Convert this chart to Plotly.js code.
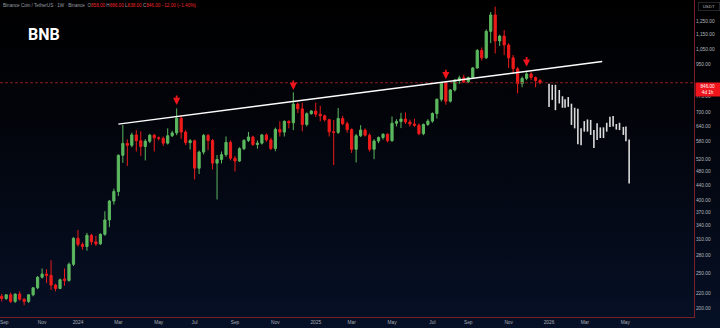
<!DOCTYPE html>
<html><head><meta charset="utf-8">
<script src="https://cdn.plot.ly/plotly-3.0.1.min.js"></script>
<style>
html,body{margin:0;padding:0;width:720px;height:328px;overflow:hidden;
background:linear-gradient(180deg,#000000 0%,#02040a 35%,#061026 100%);}
#chart{width:720px;height:328px;}
</style></head><body><div id="chart"></div>
<script>
// Weekly candles, BNB/USDT (Binance, 1W)
const weeks = [
'2023-09-04','2023-09-11','2023-09-18','2023-09-25','2023-10-02','2023-10-09','2023-10-16','2023-10-23','2023-10-30','2023-11-06',
'2023-11-13','2023-11-20','2023-11-27','2023-12-04','2023-12-11','2023-12-18','2023-12-25','2024-01-01','2024-01-08','2024-01-15',
'2024-01-22','2024-01-29','2024-02-05','2024-02-12','2024-02-19','2024-02-26','2024-03-04','2024-03-11','2024-03-18','2024-03-25',
'2024-04-01','2024-04-08','2024-04-15','2024-04-22','2024-04-29','2024-05-06','2024-05-13','2024-05-20','2024-05-27','2024-06-03',
'2024-06-10','2024-06-17','2024-06-24','2024-07-01','2024-07-08','2024-07-15','2024-07-22','2024-07-29','2024-08-05','2024-08-12',
'2024-08-19','2024-08-26','2024-09-02','2024-09-09','2024-09-16','2024-09-23','2024-09-30','2024-10-07','2024-10-14','2024-10-21',
'2024-10-28','2024-11-04','2024-11-11','2024-11-18','2024-11-25','2024-12-02','2024-12-09','2024-12-16','2024-12-23','2024-12-30',
'2025-01-06','2025-01-13','2025-01-20','2025-01-27','2025-02-03','2025-02-10','2025-02-17','2025-02-24','2025-03-03','2025-03-10',
'2025-03-17','2025-03-24','2025-03-31','2025-04-07','2025-04-14','2025-04-21','2025-04-28','2025-05-05','2025-05-12','2025-05-19',
'2025-05-26','2025-06-02','2025-06-09','2025-06-16','2025-06-23','2025-06-30','2025-07-07','2025-07-14','2025-07-21','2025-07-28',
'2025-08-04','2025-08-11','2025-08-18','2025-08-25','2025-09-01','2025-09-08','2025-09-15','2025-09-22','2025-09-29','2025-10-06',
'2025-10-13','2025-10-20','2025-10-27','2025-11-03','2025-11-10','2025-11-17','2025-11-24','2025-12-01','2025-12-08','2025-12-15',
'2025-12-22'];
const openP = [
216,213,218,209,219,212,209,218,228,244, 249,247,232,227,241,239,265,313,301,297,
319,306,302,321,352,397,422,532,574,567, 606,584,563,582,605,595,593,575,603,614,
674,617,577,584,490,543,604,585,506,518, 534,578,522,513,555,585,598,570,575,606,
587,556,628,617,661,655,738,716,648,694, 706,692,685,668,618,616,673,651,627,553,
603,625,605,553,583,596,609,584,653,660, 671,658,650,645,611,648,662,695,761,845,
752,808,858,873,851,875,930,1040,992,1175, 1305,1105,1140,1077,992,925,842,870,895,875,
858];
const highP = [
219,219,221,220,223,213,219,229,246,258, 257,272,234,242,258,268,315,330,305,324,
322,318,323,372,400,430,535,646,589,615, 625,620,590,610,610,600,600,632,622,718,
688,625,590,588,548,610,610,590,533,545, 600,585,530,560,590,618,603,585,610,612,
595,635,661,665,665,796,745,745,700,710, 745,730,690,672,667,720,685,660,632,610,
645,632,612,590,600,612,612,682,670,698, 700,668,672,652,652,670,700,765,850,855,
812,865,885,890,880,935,1050,1060,1190,1330, 1376,1150,1185,1090,1010,935,880,905,905,880,
866];
const lowP = [
209,211,207,207,210,204,207,216,226,242, 235,225,223,226,231,237,262,297,291,289,
300,298,300,318,336,388,410,507,497,560, 545,530,515,575,545,585,565,570,598,605,
591,568,552,456,472,535,550,486,401,505, 527,515,480,510,550,579,565,555,570,580,
550,546,600,600,632,625,697,620,640,690, 680,661,660,600,500,610,645,615,540,508,
598,600,545,519,575,588,578,580,640,633, 650,640,638,605,605,642,655,673,750,735,
745,800,840,845,845,870,925,975,985,1090, 1020,1070,1010,930,895,790,822,860,860,822,
838];
const closeP = [
213,218,209,219,212,209,218,228,244,249, 247,232,227,240,239,265,313,301,297,319,
306,302,321,352,397,422,532,574,567,606, 584,563,582,605,595,593,575,603,614,674,
617,577,584,490,543,604,585,506,518,534, 578,522,513,555,585,598,570,575,606,587,
556,628,617,661,655,738,716,648,694,706, 692,685,668,618,616,673,651,627,553,603,
625,605,553,583,596,609,584,653,660,671, 658,650,645,611,648,662,695,761,845,752,
808,861,873,851,875,930,1040,992,1175,1305, 1105,1140,1077,992,925,842,870,895,875,858,
846];

// Projected "bars pattern" (white HL bars)
const ghostDates = ['2026-01-05','2026-01-10','2026-01-15','2026-01-21','2026-01-26','2026-01-30','2026-02-04','2026-02-09','2026-02-14','2026-02-19',
'2026-02-24','2026-03-01','2026-03-06','2026-03-11','2026-03-16','2026-03-21','2026-03-26','2026-03-31','2026-04-05','2026-04-10',
'2026-04-15','2026-04-20','2026-04-25','2026-05-01','2026-05-05','2026-05-10'];
const ghostHigh = [841,835,835,808,776,761,772,740,721,716, 632,662,669,667,625,653,636,636,655,681, 684,650,655,638,640,589];
const ghostLow  = [725,758,710,741,721,721,725,646,632,571, 567,619,619,606,557,587,594,594,619,638, 640,627,625,606,582,444];

// Trend line and arrow marks
const trendDates = ['2024-03-04','2026-03-29'];
const trendPrices = [649.5, 969];
const arrowDates = ['2024-06-03','2024-12-02','2025-07-28','2025-12-01'];
const arrowPrices = [734, 808, 865, 938];

// Axis ticks
const xTickVals = ['2023-09-08','2023-11-06','2024-01-01','2024-03-04','2024-05-06','2024-07-01','2024-09-02','2024-11-04','2025-01-06',
'2025-03-03','2025-05-05','2025-07-07','2025-09-01','2025-11-03','2026-01-05','2026-03-02','2026-05-04'];
const xTickText = ['Sep','Nov','2024','Mar','May','Jul','Sep','Nov','2025','Mar','May','Jul','Sep','Nov','2026','Mar','May'];
const yTickVals = [1250,1150,1050,950,775,700,640,580,520,480,440,400,370,340,310,280,250,220,200];
const yTickText = ['1,250.00','1,150.00','1,050.00','950.00','775.00','700.00','640.00','580.00','520.00','480.00','440.00','400.00',
'370.00','340.00','310.00','280.00','250.00','220.00','200.00'];

const UP = '#5cb85f', DN = '#ee1b1b', AX = '#7a1f27';
const xRange = ['2023-09-01 08:00','2026-08-19 05:00'];
const yRange = [Math.log10(189.2), Math.log10(1436)];
const n = closeP.length;
const last = closeP[n-1];

// ghost bar segments
const gx = [], gy = [];
ghostDates.forEach((d,i)=>{ gx.push(d,d,null); gy.push(ghostHigh[i],ghostLow[i],null); });

const traces = [
  {type:'candlestick', x:weeks, open:openP, high:highP, low:lowP, close:closeP,
   increasing:{line:{color:UP,width:1}, fillcolor:UP},
   decreasing:{line:{color:DN,width:1}, fillcolor:DN},
   whiskerwidth:0, hoverinfo:'skip', showlegend:false},
  {type:'scatter', mode:'lines', x:xRange, y:[last,last], line:{color:'#8e1d22',width:1,dash:'3px,2px'},
   hoverinfo:'skip', showlegend:false},
  {type:'scatter', mode:'lines', x:gx, y:gy, connectgaps:false, line:{color:'rgba(238,238,238,0.92)',width:1.6},
   hoverinfo:'skip', showlegend:false},
  {type:'scatter', mode:'lines', x:trendDates, y:trendPrices, line:{color:'#ffffff',width:1.4},
   hoverinfo:'skip', showlegend:false}
];

const small = {family:'Liberation Sans, Arial, sans-serif', size:4.6, color:'#9a9ea8'};
const red = '#f0262b';
const chg = last - closeP[n-2];
const fmt = v => v.toFixed(2);
const header = 'Binance Coin / TetherUS · 1W · Binance  O<span style="color:'+red+'">'+fmt(openP[n-1])+'</span> H<span style="color:'+red+'">'+fmt(highP[n-1])+
  '</span> L<span style="color:'+red+'">'+fmt(lowP[n-1])+'</span> C<span style="color:'+red+'">'+fmt(last)+'</span> <span style="color:'+red+'">'+
  (chg<0?'−':'+')+fmt(Math.abs(chg))+' ('+(chg<0?'−':'+')+fmt(Math.abs(chg/closeP[n-2]*100))+'%)</span>';

const annotations = [
  {xref:'paper',yref:'paper',x:0,y:1,xanchor:'left',yanchor:'top',xshift:1,yshift:-1,showarrow:false,text:header,font:small},
  {xref:'paper',yref:'paper',x:0,y:1,xanchor:'left',yanchor:'middle',xshift:26,yshift:-34.5,showarrow:false,text:'<b>BNB</b>',
   font:{family:'Roboto, Liberation Sans, sans-serif',size:16,color:'#ffffff'}},
  {xref:'paper',yref:'paper',x:1,y:1,xanchor:'left',yanchor:'top',xshift:4,yshift:-2,showarrow:false,text:'USDT',
   font:{family:'Liberation Sans, Arial, sans-serif',size:4.4,color:'#b0b3bb'},bordercolor:'#3a3d45',borderwidth:0.6,borderpad:1.2,width:18},
  {xref:'paper',yref:'y',x:1,y:Math.log10(last),xanchor:'left',yanchor:'top',xshift:1,yshift:1.2,showarrow:false,
   text:fmt(last)+'<br>4d 1h',font:{family:'Liberation Sans, Arial, sans-serif',size:4.6,color:'#ffffff'},
   bgcolor:'#f0141c',borderpad:0.8,width:22,align:'center'}
];
arrowDates.forEach((d,i)=>{
  annotations.push({xref:'x',yref:'y',x:d,y:Math.log10(arrowPrices[i]),showarrow:true,ax:0,ay:-11,
    arrowhead:2,arrowsize:0.8,arrowwidth:1.8,arrowcolor:'#f0141c',standoff:0,text:''});
});

const layout = {
  width:720, height:328,
  margin:{l:0,r:26,t:0,b:11,pad:0},
  paper_bgcolor:'rgba(0,0,0,0)', plot_bgcolor:'rgba(0,0,0,0)',
  showlegend:false, hovermode:false,
  xaxis:{type:'date', range:xRange, rangeslider:{visible:false}, tickmode:'array', tickvals:xTickVals, ticktext:xTickText,
    ticklabeloverflow:'allow',
    tickfont:{family:'Liberation Sans, Arial, sans-serif',size:4.8,color:'#a9acb4'}, showgrid:false, zeroline:false,
    showline:true, linecolor:AX, linewidth:1, ticks:'', fixedrange:true},
  yaxis:{type:'log', range:yRange, side:'right', tickmode:'array', tickvals:yTickVals, ticktext:yTickText,
    tickfont:{family:'Liberation Sans, Arial, sans-serif',size:4.8,color:'#b4b7bf'}, showgrid:false, zeroline:false,
    showline:true, linecolor:AX, linewidth:1, ticks:'', fixedrange:true},
  annotations:annotations
};
Plotly.newPlot('chart', traces, layout, {displayModeBar:false, staticPlot:true});
</script></body></html>
